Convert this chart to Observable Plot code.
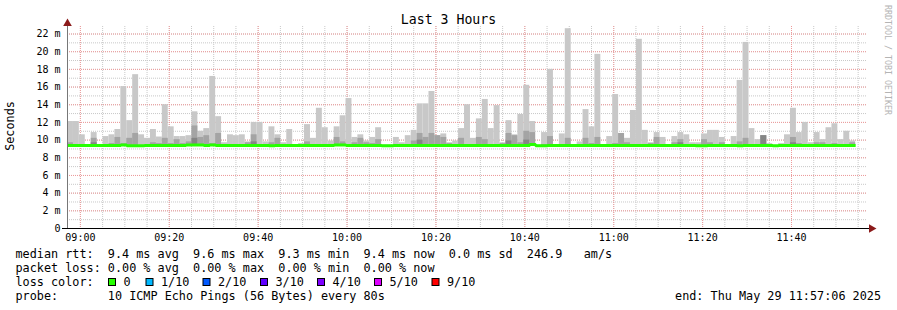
<!DOCTYPE html>
<html><head><meta charset="utf-8">
<script src="https://cdn.jsdelivr.net/npm/d3@7"></script>
<script src="https://cdn.jsdelivr.net/npm/@observablehq/plot@0.6"></script>
<style>
html,body{margin:0;padding:0;background:#fff;}
#wrap{position:relative;width:897px;height:310px;overflow:hidden;}
#wrap svg{position:absolute;left:0;top:0;}
#wrap svg text.pre{white-space:pre;}
</style></head><body><div id="wrap"></div>
<script>
// ---- data ----
const startTime = new Date(2025, 4, 29, 8, 57, 6);
const endTime = new Date(2025, 4, 29, 11, 57, 6);
const stepSeconds = 80;

// top of smoke (max ping), seconds in ms units (m)
const hi = [12.1,12.1,10.6,9.5,10.85,9.5,10.4,10.6,11.2,16.05,
12.2,17.4,10.6,10.2,11.2,10.35,14.0,11.5,10.4,10.4,
10.5,13.2,11.0,11.3,17.2,12.65,9.7,10.6,10.5,10.6,
9.8,12.0,12.0,9.8,11.5,10.6,9.7,11.2,9.5,9.6,
11.75,10.2,13.6,11.4,9.9,11.5,12.75,14.7,10.3,10.6,
9.9,10.3,11.4,9.45,9.45,10.3,9.7,10.5,11.1,14.1,
14.1,15.5,10.5,10.7,9.7,9.9,11.3,14.0,10.2,12.4,
14.6,11.3,13.9,9.7,12.2,10.6,12.9,16.2,12.1,9.45,
10.85,18.0,9.5,10.7,22.6,9.5,9.8,13.45,11.5,19.7,
9.5,10.4,15.15,10.7,10.2,13.35,21.4,11.1,9.7,10.85,
10.3,9.5,10.4,10.85,10.6,9.7,9.7,10.7,11.1,11.1,
10.3,9.4,10.4,16.75,21.05,11.3,10.05,10.5,9.6,9.4,
9.6,10.6,13.6,10.85,12.0,9.7,10.85,10.05,11.4,11.85,
10.05,11.0,9.9];

// top of darker inner smoke band (null = not visible)
const mid = [9.7,null,null,null,10.2,null,null,9.6,10.3,9.6,
10.2,10.75,null,null,9.7,9.6,10.2,9.6,10.05,9.6,
9.8,11.6,10.3,10.5,9.6,10.75,null,null,null,9.5,
9.7,10.6,9.5,null,9.7,10.2,null,null,null,null,
9.8,9.5,9.5,9.5,null,10.3,9.8,9.5,9.7,10.2,
9.7,9.6,10.05,null,null,null,null,null,9.9,10.75,
10.3,10.75,10.5,10.3,9.6,null,10.2,9.5,null,10.3,
10.05,null,null,9.6,10.75,10.5,9.7,11.0,10.85,null,
9.5,10.4,null,null,10.2,null,null,10.2,9.6,10.3,
null,null,9.6,10.75,9.7,null,null,null,9.6,10.3,
null,null,9.7,10.05,null,null,9.5,10.05,9.7,null,
9.7,null,null,9.8,10.2,null,null,10.5,null,null,
null,null,10.3,9.6,null,null,9.7,9.7,null,9.6,
null,null,9.7];

// darkest core band (null = not visible)
const core = [null,null,null,null,9.7,null,null,null,null,null,
null,null,null,null,null,null,null,null,null,null,
null,10.2,null,null,null,null,null,null,null,null,
null,9.8,null,null,null,null,null,null,null,null,
null,null,null,null,null,null,null,null,null,null,
null,null,null,null,null,null,null,null,null,10.0,
null,null,null,null,null,null,null,null,null,null,
null,null,null,null,9.9,null,null,10.0,null,null,
null,null,null,null,null,null,null,null,null,null,
null,null,null,null,null,null,null,null,null,null,
null,null,null,9.7,null,null,null,null,null,null,
null,null,null,null,null,null,null,10.5,null,null,
null,null,9.7,null,null,null,null,null,null,null,
null,null,null];

// bottom of smoke (min ping)
const lo = [9.3,9.3,9.3,9.3,9.3,9.3,9.3,9.3,9.3,9.3,
9.25,9.25,9.25,9.3,9.3,9.3,9.3,9.3,9.3,9.3,
9.3,9.3,9.3,9.3,9.3,9.3,9.3,9.3,9.3,9.3,
9.3,9.3,9.3,9.3,9.25,9.3,9.3,9.3,9.3,9.3,
9.3,9.3,9.3,9.3,9.3,9.3,9.3,9.3,9.3,9.3,
9.3,9.3,9.3,9.25,9.25,9.3,9.3,9.3,9.3,9.2,
9.2,9.2,9.3,9.3,9.3,9.3,9.3,9.3,9.3,9.3,
9.3,9.3,9.3,9.3,9.3,9.3,9.3,9.3,9.3,9.25,
9.25,9.3,9.3,9.3,9.2,9.3,9.3,9.3,9.3,9.3,
9.3,9.3,9.3,9.3,9.3,9.3,9.3,9.3,9.3,9.3,
9.3,9.3,9.3,9.3,9.3,9.3,9.25,9.25,9.3,9.3,
9.3,9.3,9.3,9.25,9.3,9.3,9.3,9.3,9.3,9.25,
9.3,9.3,9.3,9.3,9.3,9.3,9.3,9.3,9.3,9.3,
9.3,9.3,9.3];

// median rtt
const med = [9.4,9.4,9.4,9.4,9.4,9.4,9.4,9.4,9.4,9.45,
9.35,9.35,9.35,9.4,9.4,9.4,9.4,9.4,9.4,9.4,
9.45,9.45,9.45,9.4,9.45,9.4,9.4,9.4,9.4,9.4,
9.4,9.4,9.4,9.4,9.35,9.4,9.4,9.4,9.4,9.4,
9.4,9.4,9.4,9.4,9.4,9.45,9.45,9.4,9.4,9.4,
9.4,9.4,9.4,9.35,9.35,9.4,9.4,9.4,9.4,9.4,
9.4,9.4,9.4,9.4,9.4,9.4,9.4,9.4,9.4,9.4,
9.4,9.4,9.4,9.4,9.4,9.4,9.4,9.4,9.5,9.35,
9.35,9.4,9.4,9.4,9.4,9.4,9.4,9.4,9.4,9.4,
9.4,9.4,9.4,9.4,9.4,9.4,9.4,9.4,9.4,9.4,
9.4,9.4,9.4,9.4,9.4,9.4,9.35,9.35,9.4,9.4,
9.4,9.4,9.4,9.35,9.4,9.4,9.4,9.4,9.4,9.35,
9.4,9.4,9.4,9.4,9.4,9.4,9.4,9.4,9.4,9.4,
9.4,9.4,9.4];

const yTicks = [0,2,4,6,8,10,12,14,16,18,20,22];
const lossColors = ["#26ff00","#00b8ff","#0059ff","#5e00ff","#7e00ff","#dd00ff","#ff0000"];
const lossLabels = ["0","1/10","2/10","3/10","4/10","5/10","9/10"];
const statsLine1 = "median rtt:  9.4 ms avg  9.6 ms max  9.3 ms min  9.4 ms now  0.0 ms sd  246.9   am/s";
const statsLine2 = "packet loss: 0.00 % avg  0.00 % max  0.00 % min  0.00 % now";
const probeLine = "probe:       10 ICMP Echo Pings (56 Bytes) every 80s";
const endLine = "end: Thu May 29 11:57:06 2025";
const titleText = "Last 3 Hours";
const yLabel = "Seconds";
const watermark = "RRDTOOL / TOBI OETIKER";

// ---- build table ----
const ms = stepSeconds * 1000;
const rows = hi.map((h, i) => ({
  t0: new Date(+startTime + i * ms),
  t1: new Date(+startTime + (i + 1) * ms),
  lo: lo[i], hi: h, mid: mid[i], core: core[i], med: med[i]
}));
const medPts = rows.map(r => ({t: r.t0, v: r.med}));
medPts.push({t: rows[rows.length - 1].t1, v: rows[rows.length - 1].med});

const minorX = d3.timeMinute.every(5).range(startTime, endTime);
const majorX = d3.timeMinute.every(20).range(startTime, endTime);
const minorY = d3.range(1, 23, 1);
const majorY = yTicks.filter(d => d > 0);

const MONO = "'DejaVu Sans Mono', monospace";

const chart = Plot.plot({
  width: 897, height: 310,
  marginLeft: 67, marginRight: 30, marginTop: 26, marginBottom: 82,
  style: {fontFamily: MONO, fontSize: "10px", background: "transparent", color: "#000", overflow: "visible"},
  x: {type: "time", domain: [startTime, endTime]},
  y: {domain: [0, 22.85]},
  marks: [
    Plot.ruleY(minorY, {stroke: "#c8c8c8", strokeDasharray: "1,1"}),
    Plot.ruleX(minorX, {stroke: "#c8c8c8", strokeDasharray: "1,1"}),
    Plot.ruleY(majorY, {stroke: "#ee9a9a", strokeDasharray: "1,1"}),
    Plot.ruleX(majorX, {stroke: "#ee9a9a", strokeDasharray: "1,1"}),
    Plot.rect(rows, {x1: "t0", x2: "t1", y1: "lo", y2: "hi", fill: "#c8c8c8"}),
    Plot.rect(rows.filter(r => r.mid != null), {x1: "t0", x2: "t1", y1: "lo", y2: "mid", fill: "#a4a4a4"}),
    Plot.rect(rows.filter(r => r.core != null), {x1: "t0", x2: "t1", y1: "lo", y2: "core", fill: "#858585"}),
    Plot.line(medPts, {x: "t", y: "v", curve: "step-after", stroke: lossColors[0], strokeWidth: 3, strokeLinecap: "butt", strokeLinejoin: "miter"}),
    Plot.ruleX([startTime], {stroke: "#777"}),
    Plot.ruleY([0], {stroke: "#000", insetLeft: -5, insetRight: -2}),
    Plot.dot([0], {frameAnchor: "top-left", symbol: "triangle", r: 3.2, fill: "#8b1a1a", stroke: "none", dy: -3}),
    Plot.dot([0], {frameAnchor: "bottom-right", symbol: "triangle", rotate: 90, r: 3.2, fill: "#8b1a1a", stroke: "none", dx: 4}),
    Plot.axisY({ticks: yTicks, tickSize: 0, tickPadding: 7, tickFormat: d => d === 0 ? "0" : d + " m", label: null, fontSize: 10}),
    Plot.axisX({ticks: majorX, tickSize: 0, tickPadding: 5, tickFormat: d3.timeFormat("%H:%M"), label: null, fontSize: 10})
  ]
});
const wrap = document.getElementById("wrap");
wrap.appendChild(chart);

// ---- text overlay ----
const svg = d3.select(wrap).append("svg")
  .attr("width", 897).attr("height", 310)
  .style("font-family", MONO);

function txt(x, y, s, size) {
  return svg.append("text").attr("class", "pre").attr("xml:space", "preserve")
    .style("white-space", "pre")
    .attr("x", x).attr("y", y).attr("font-size", size).text(s);
}

svg.append("text").attr("x", 448.5).attr("y", 24).attr("text-anchor", "middle")
  .attr("font-size", 13.2).text(titleText);
svg.append("text").attr("transform", "translate(14,126) rotate(-90)").attr("text-anchor", "middle")
  .attr("font-size", 11.8).text(yLabel);
svg.append("text").attr("transform", "translate(884.5,5) rotate(90)")
  .attr("font-size", 8.3).attr("fill", "#b4b4b4").text(watermark);

const FS = 11.8, X0 = 15.5;
txt(X0, 258, statsLine1, FS);
txt(X0, 272, statsLine2, FS);
txt(X0, 286, "loss color:", FS);
const boxX = [108.5, 146, 203, 260.5, 317.5, 374.5, 432];
lossLabels.forEach((lab, i) => {
  svg.append("rect").attr("x", boxX[i]).attr("y", 278.5).attr("width", 7).attr("height", 7)
    .attr("fill", lossColors[i]).attr("stroke", "#000").attr("stroke-width", 1);
  txt(boxX[i] + 15, 286, lab, FS);
});
txt(X0, 300, probeLine, FS);
txt(881, 300, endLine, FS).attr("text-anchor", "end");
</script>
</body></html>
